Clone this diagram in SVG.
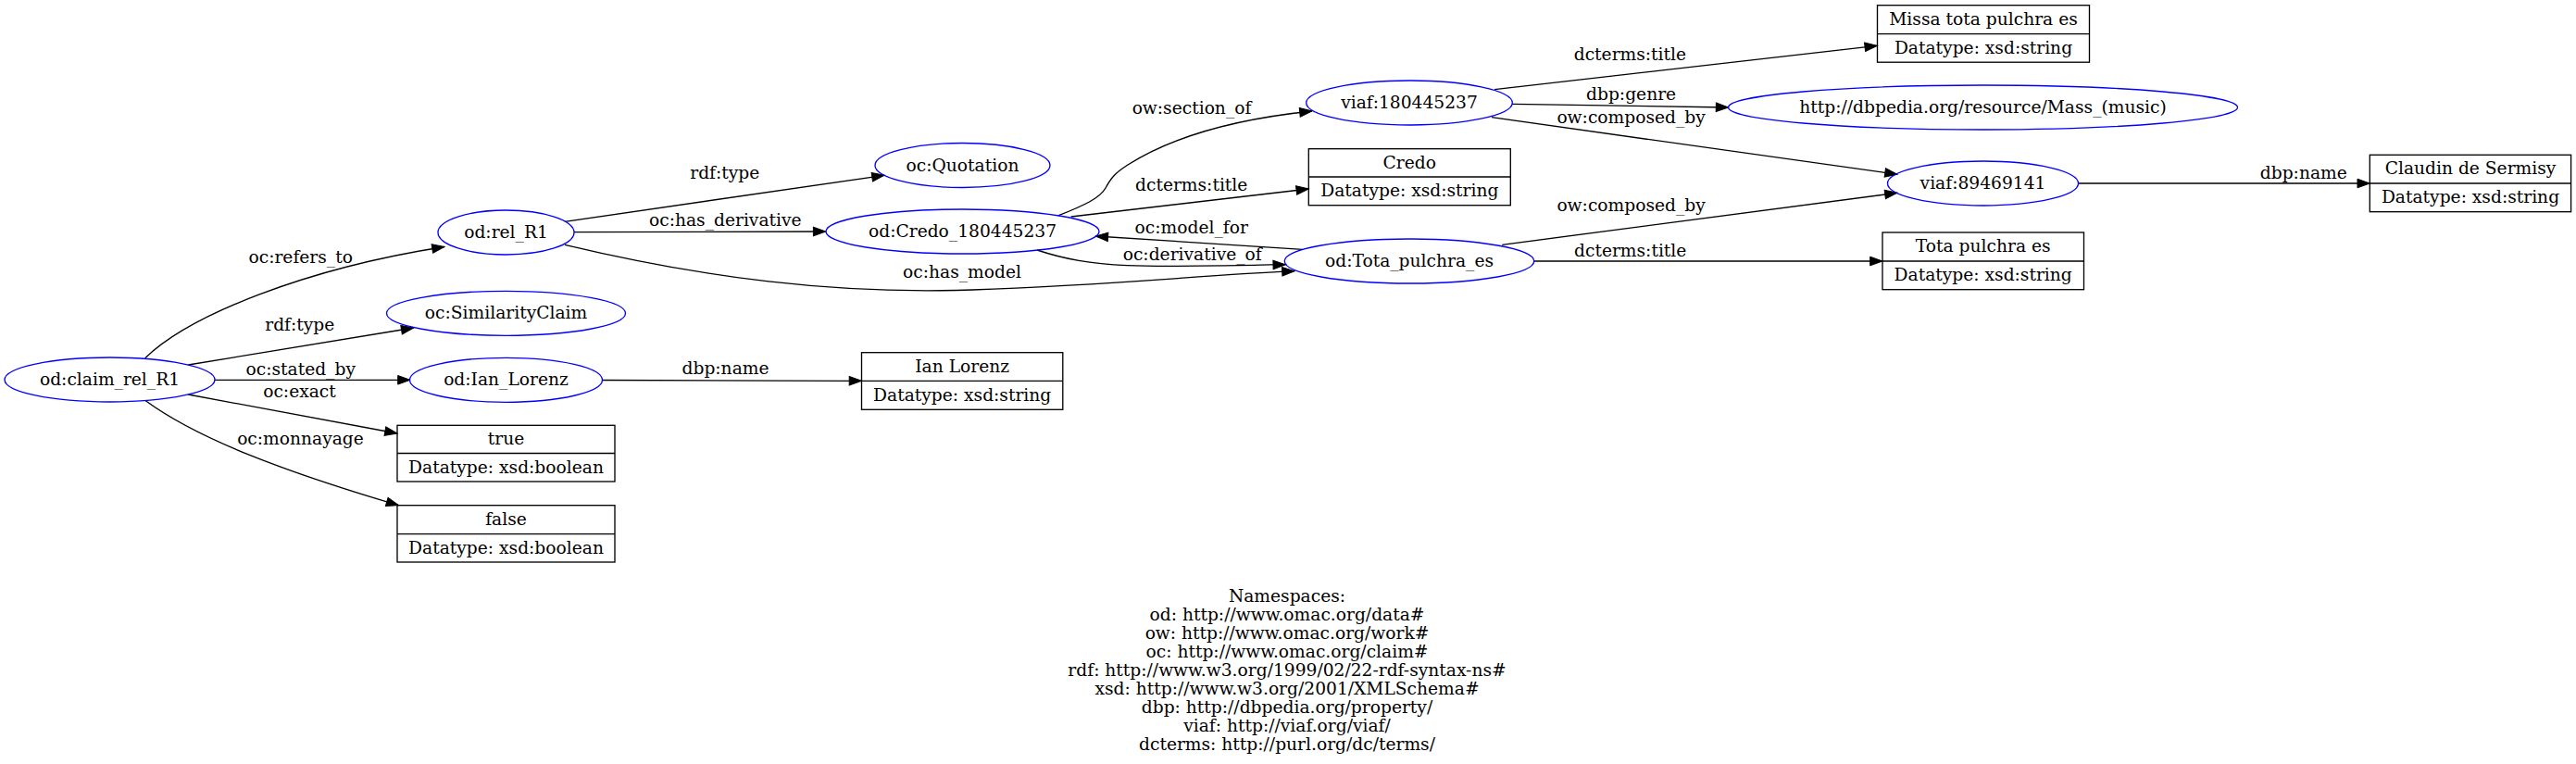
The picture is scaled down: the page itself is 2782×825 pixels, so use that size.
<svg xmlns="http://www.w3.org/2000/svg" width="2782" height="825" viewBox="0 0 2782 825">
<style>
text{font-family:"DejaVu Serif","Liberation Serif",serif;font-size:18.67px;fill:#000;text-anchor:middle}
.n ellipse{fill:none;stroke:#0000ff;stroke-width:1.33}
.r rect{fill:none;stroke:#000;stroke-width:1.33}
.r line{stroke:#000;stroke-width:1.33}
.e path{fill:none;stroke:#000;stroke-width:1.33;marker-end:url(#arr)}
</style>
<defs>
<marker id="arr" markerUnits="userSpaceOnUse" markerWidth="14" markerHeight="10" refX="13.3" refY="4.8" orient="auto" overflow="visible">
<path d="M0,0 L13.3,4.8 L0,9.6 z" fill="#000" stroke="#000" stroke-width="1"/>
</marker>
</defs>
<rect width="2782" height="825" fill="#fff"/>
<g id="connectors" class="e">
<path d="M156.7,386.7 C205,340 330,290 480,266.5"/>
<path d="M203.3,394 L446.7,354"/>
<path d="M231.7,410.3 L443,410.3"/>
<path d="M203.3,426 L429,468"/>
<path d="M157,432.5 C215,475 310,510 430.5,545.7"/>
<path d="M610,239.3 L955,189.3"/>
<path d="M620,250.7 L891.7,250"/>
<path d="M610,264.3 C760,300 900,318 1050,313 C1200,308 1300,297 1398,292.7"/>
<path d="M650.5,410.5 L930.5,411.3"/>
<path d="M1156.7,234 L1413.3,204"/>
<path d="M1143.3,232.7 C1170,222 1188,214 1194,203 C1200,192 1204,187 1218,178 C1270,145 1340,128 1417,120"/>
<path d="M1406.7,269.3 L1183.3,255"/>
<path d="M1120,270 C1180,290 1230,289 1388.3,285.7"/>
<path d="M1622.3,264.3 L2049,208.3"/>
<path d="M1656.7,282 L2033,282"/>
<path d="M1614,96.7 L2027.3,49.3"/>
<path d="M1633,112.3 L1866.6,116"/>
<path d="M1611,126.7 L2049,188.3"/>
<path d="M2244.5,198 L2559.3,198"/>
</g>
<g id="edge-labels">
<text x="324.7" y="284.3">oc:refers_to</text>
<text x="323.8" y="356.7">rdf:type</text>
<text x="324.7" y="405">oc:stated_by</text>
<text x="323.5" y="429.3">oc:exact</text>
<text x="324.5" y="480">oc:monnayage</text>
<text x="782.8" y="193.3">rdf:type</text>
<text x="783.3" y="244.3">oc:has_derivative</text>
<text x="1039" y="300">oc:has_model</text>
<text x="783.5" y="404">dbp:name</text>
<text x="1287" y="123">ow:section_of</text>
<text x="1286.7" y="205.7">dcterms:title</text>
<text x="1286.7" y="251.7">oc:model_for</text>
<text x="1287.7" y="281">oc:derivative_of</text>
<text x="1760.4" y="65">dcterms:title</text>
<text x="1761.6" y="108.3">dbp:genre</text>
<text x="1761.6" y="133.3">ow:composed_by</text>
<text x="1761.6" y="228.3">ow:composed_by</text>
<text x="1760.7" y="276.7">dcterms:title</text>
<text x="2487.8" y="192.7">dbp:name</text>
</g>
<g id="claim_rel_R1" class="n"><ellipse cx="118.5" cy="410" rx="113.5" ry="24"/><text x="118.5" y="416">od:claim_rel_R1</text></g>
<g id="rel_R1" class="n"><ellipse cx="546.5" cy="251" rx="73.5" ry="24"/><text x="546.5" y="257">od:rel_R1</text></g>
<g id="SimilarityClaim" class="n"><ellipse cx="546.5" cy="338.3" rx="129" ry="24"/><text x="546.5" y="344.3">oc:SimilarityClaim</text></g>
<g id="Ian_Lorenz" class="n"><ellipse cx="546.5" cy="410.3" rx="104" ry="24"/><text x="546.5" y="416.3">od:Ian_Lorenz</text></g>
<g id="lit_true" class="r"><rect x="429" y="459.3" width="235" height="60.7"/><line x1="429" y1="489.5" x2="664" y2="489.5"/><text x="546.5" y="480">true</text><text x="546.5" y="510.5">Datatype: xsd:boolean</text></g>
<g id="lit_false" class="r"><rect x="429" y="545.7" width="235" height="61.3"/><line x1="429" y1="576.7" x2="664" y2="576.7"/><text x="546.5" y="566.8">false</text><text x="546.5" y="597.6">Datatype: xsd:boolean</text></g>
<g id="Quotation" class="n"><ellipse cx="1039.5" cy="178.5" rx="94.5" ry="24"/><text x="1039.5" y="184.5">oc:Quotation</text></g>
<g id="Credo_180445237" class="n"><ellipse cx="1039.5" cy="250" rx="147.5" ry="24"/><text x="1039.5" y="256">od:Credo_180445237</text></g>
<g id="lit_ian" class="r"><rect x="930.5" y="380.7" width="217.3" height="61.6"/><line x1="930.5" y1="411.3" x2="1147.8" y2="411.3"/><text x="1039.2" y="401.6">Ian Lorenz</text><text x="1039.2" y="432.5">Datatype: xsd:string</text></g>
<g id="viaf_180445237" class="n"><ellipse cx="1522" cy="111" rx="111.3" ry="24"/><text x="1522" y="117">viaf:180445237</text></g>
<g id="lit_credo" class="r"><rect x="1413.3" y="160.7" width="218" height="61"/><line x1="1413.3" y1="191" x2="1631.3" y2="191"/><text x="1522.3" y="181.5">Credo</text><text x="1522.3" y="212">Datatype: xsd:string</text></g>
<g id="Tota_pulchra_es" class="n"><ellipse cx="1522" cy="282" rx="134.7" ry="24"/><text x="1522" y="288">od:Tota_pulchra_es</text></g>
<g id="lit_missa" class="r"><rect x="2027.5" y="5.7" width="229" height="61.5"/><line x1="2027.5" y1="36.7" x2="2256.5" y2="36.7"/><text x="2142" y="26.8">Missa tota pulchra es</text><text x="2142" y="57.6">Datatype: xsd:string</text></g>
<g id="mass_music" class="n"><ellipse cx="2141.5" cy="116" rx="275" ry="24"/><text x="2141.5" y="122">http://dbpedia.org/resource/Mass_(music)</text></g>
<g id="viaf_89469141" class="n"><ellipse cx="2141.5" cy="198" rx="103" ry="24"/><text x="2141.5" y="204">viaf:89469141</text></g>
<g id="lit_tota" class="r"><rect x="2033" y="251" width="217.5" height="61.7"/><line x1="2033" y1="282" x2="2250.5" y2="282"/><text x="2141.7" y="272.1">Tota pulchra es</text><text x="2141.7" y="303">Datatype: xsd:string</text></g>
<g id="lit_claudin" class="r"><rect x="2559.3" y="167.3" width="217.3" height="61.4"/><line x1="2559.3" y1="198" x2="2776.6" y2="198"/><text x="2668" y="188.2">Claudin de Sermisy</text><text x="2668" y="219">Datatype: xsd:string</text></g>
<g id="namespaces">
<text x="1390" y="650">Namespaces:</text>
<text x="1390" y="670">od: http://www.omac.org/data#</text>
<text x="1390" y="690">ow: http://www.omac.org/work#</text>
<text x="1390" y="710">oc: http://www.omac.org/claim#</text>
<text x="1390" y="730">rdf: http://www.w3.org/1999/02/22-rdf-syntax-ns#</text>
<text x="1390" y="750">xsd: http://www.w3.org/2001/XMLSchema#</text>
<text x="1390" y="770">dbp: http://dbpedia.org/property/</text>
<text x="1390" y="790">viaf: http://viaf.org/viaf/</text>
<text x="1390" y="810">dcterms: http://purl.org/dc/terms/</text>
</g>
</svg>
